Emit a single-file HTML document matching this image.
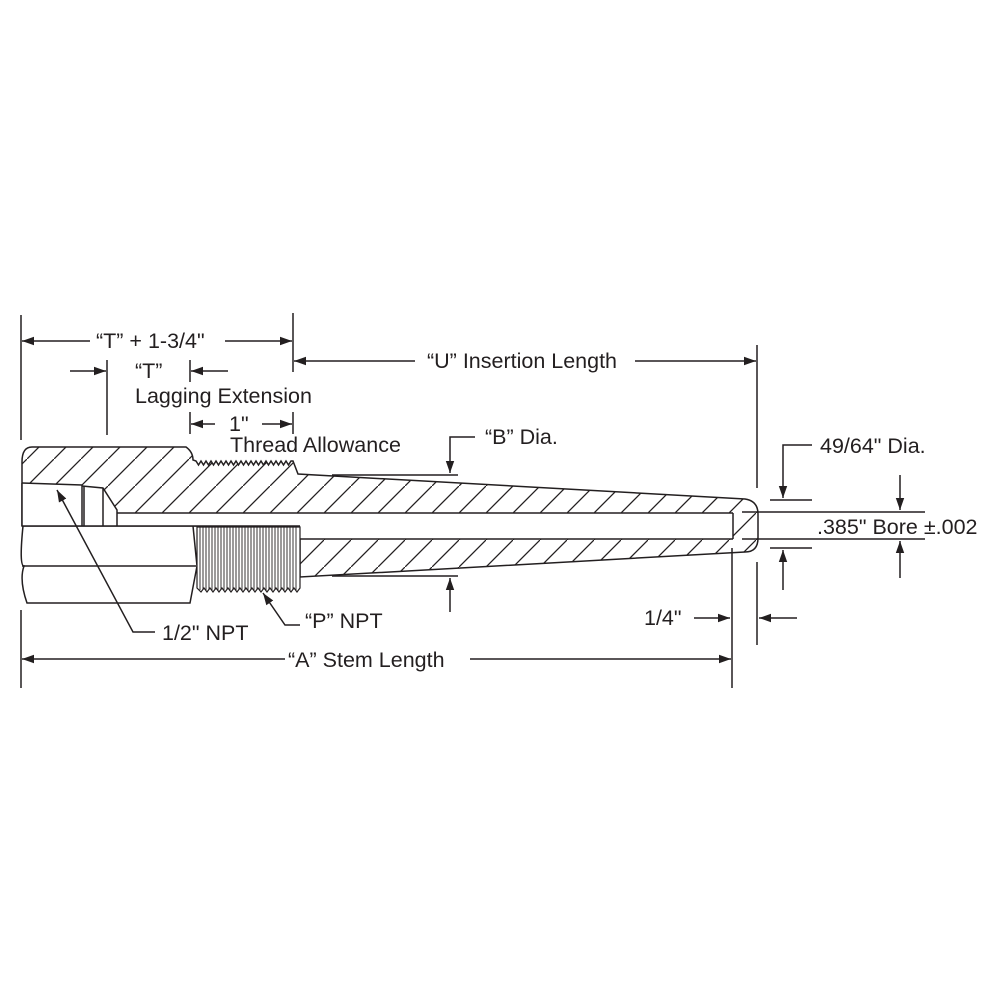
<!DOCTYPE html>
<html><head><meta charset="utf-8"><style>
html,body{margin:0;padding:0;background:#fff}
svg{display:block}
text{font-family:"Liberation Sans",Arial,sans-serif;fill:#231f20}
</style></head><body>
<svg width="1000" height="1000" viewBox="0 0 1000 1000" xmlns="http://www.w3.org/2000/svg">
<defs>
<pattern id="h" patternUnits="userSpaceOnUse" width="27" height="27">
<line x1="-2" y1="29" x2="29" y2="-2" stroke="#231f20" stroke-width="1.3"/>
</pattern>
<marker id="a" viewBox="0 0 10 10" refX="10" refY="5" markerWidth="12" markerHeight="12" markerUnits="userSpaceOnUse" orient="auto-start-reverse"><path d="M0,1.5 L10,5 L0,8.5 Z" fill="#231f20"/></marker>
</defs>
<g stroke="#231f20" fill="none" stroke-width="1.5">
<path fill="url(#h)" d="M22,483 L22,462 Q22,447 32,447 L186,447 Q193,452 193,460 L196,461 l2.5,4 2.5,-4 2.5,4 2.5,-4 2.5,4 2.5,-4 2.5,4 2.5,-4 2.5,4 2.5,-4 2.5,4 2.5,-4 2.5,4 2.5,-4 2.5,4 2.5,-4 2.5,4 2.5,-4 2.5,4 2.5,-4 2.5,4 2.5,-4 2.5,4 2.5,-4 2.5,4 2.5,-4 2.5,4 2.5,-4 2.5,4 2.5,-4 2.5,4 2.5,-4 2.5,4 2.5,-4 2.5,4 2.5,-4 2.5,4 2.5,-4 L293,461 L298,474 L745,499 Q758,501 758,514 L758,538 Q758,552 745,552 L300,577 L300,526 L22,526 Z"/>
<path fill="#fff" d="M22,483 L82,485 L103,488 L117,510 L117,513 L733,513 L733,539 L300,539 L300,526 L22,526 Z" stroke="none"/>
<line x1="22" y1="483" x2="82" y2="485"/>
<path d="M82,486 L103,488 L117,510 L117,526"/>
<line x1="82" y1="485" x2="82" y2="526"/><line x1="84" y1="486" x2="84" y2="526"/>
<line x1="103" y1="488" x2="103" y2="526"/>
<line x1="117" y1="513" x2="733" y2="513"/>
<line x1="300" y1="539" x2="733" y2="539"/>
<line x1="733" y1="513" x2="733" y2="539"/>
<line x1="22" y1="483" x2="22" y2="526"/>
<!-- hex lower faces -->
<path d="M23,526 Q19,566 24,566 Q19,580 27,603 L190,603 L197,566 L193,526"/>
<line x1="22" y1="566" x2="196" y2="566"/>
<line x1="22" y1="526" x2="300" y2="526"/>
<!-- internal thread -->
<path fill="#fff" d="M197,527 L300,527 L300,588 L297,592 L294,588 L291,592 L288,588 L285,592 L282,588 L279,592 L276,588 L273,592 L270,588 L267,592 L264,588 L261,592 L258,588 L255,592 L252,588 L249,592 L246,588 L243,592 L240,588 L237,592 L234,588 L231,592 L228,588 L225,592 L222,588 L219,592 L216,588 L213,592 L210,588 L207,592 L204,588 L201,592 L197,588 Z" stroke-width="1.2"/>
<path stroke-width="0.9" d="M200,527V590M203,527V590M206,527V590M209,527V590M212,527V590M215,527V590M218,527V590M221,527V590M224,527V590M227,527V590M230,527V590M233,527V590M236,527V590M239,527V590M242,527V590M245,527V590M248,527V590M251,527V590M254,527V590M257,527V590M260,527V590M263,527V590M266,527V590M269,527V590M272,527V590M275,527V590M278,527V590M281,527V590M284,527V590M287,527V590M290,527V590M293,527V590M296,527V590"/>

<line x1="21" y1="315" x2="21" y2="440"/>
<line x1="21" y1="610" x2="21" y2="688"/>
<line x1="293" y1="313" x2="293" y2="372"/>
<line x1="107" y1="360" x2="107" y2="435"/>
<line x1="190" y1="360" x2="190" y2="382"/>
<line x1="190" y1="412" x2="190" y2="434"/>
<line x1="293" y1="412" x2="293" y2="434"/>
<line x1="757" y1="345" x2="757" y2="488"/>
<line x1="757" y1="562" x2="757" y2="645"/>
<line x1="732" y1="548" x2="732" y2="688"/>
<line x1="90" y1="341" x2="22" y2="341" marker-end="url(#a)"/>
<line x1="225" y1="341" x2="292" y2="341" marker-end="url(#a)"/>
<line x1="70" y1="371" x2="106" y2="371" marker-end="url(#a)"/>
<line x1="228" y1="371" x2="191" y2="371" marker-end="url(#a)"/>
<line x1="215" y1="424" x2="191" y2="424" marker-end="url(#a)"/>
<line x1="262" y1="424" x2="292" y2="424" marker-end="url(#a)"/>
<line x1="415" y1="361" x2="294" y2="361" marker-end="url(#a)"/>
<line x1="635" y1="361" x2="756" y2="361" marker-end="url(#a)"/>
<line x1="285" y1="659" x2="22" y2="659" marker-end="url(#a)"/>
<line x1="470" y1="659" x2="731" y2="659" marker-end="url(#a)"/>
<path d="M475,437 L450,437 L450,473" marker-end="url(#a)"/>
<line x1="332" y1="475" x2="458" y2="475"/>
<line x1="332" y1="576" x2="458" y2="576"/>
<line x1="450" y1="612" x2="450" y2="578" marker-end="url(#a)"/>
<path d="M812,445 L783,445 L783,498" marker-end="url(#a)"/>
<line x1="770" y1="500" x2="812" y2="500"/>
<line x1="770" y1="548" x2="812" y2="548"/>
<line x1="783" y1="590" x2="783" y2="550" marker-end="url(#a)"/>
<line x1="742" y1="512" x2="925" y2="512"/>
<line x1="742" y1="539" x2="925" y2="539"/>
<line x1="900" y1="475" x2="900" y2="510" marker-end="url(#a)"/>
<line x1="900" y1="578" x2="900" y2="541" marker-end="url(#a)"/>
<line x1="694" y1="618" x2="730" y2="618" marker-end="url(#a)"/>
<line x1="797" y1="618" x2="759" y2="618" marker-end="url(#a)"/>
<path d="M155,632 L133,632 L57,490" marker-end="url(#a)"/>
<path d="M300,625 L285,625 L263,593" marker-end="url(#a)"/>
</g>
<g font-size="21.5">
<text x="96" y="348">“T” + 1-3/4"</text>
<text x="135" y="378">“T”</text>
<text x="135" y="403">Lagging Extension</text>
<text x="229" y="431">1"</text>
<text x="230" y="452">Thread Allowance</text>
<text x="427" y="368">“U” Insertion Length</text>
<text x="485" y="444">“B” Dia.</text>
<text x="820" y="453">49/64" Dia.</text>
<text x="817" y="534">.385" Bore ±.002</text>
<text x="644" y="625">1/4"</text>
<text x="162" y="640">1/2" NPT</text>
<text x="305" y="628">“P” NPT</text>
<text x="288" y="667">“A” Stem Length</text>
</g>
</svg>
</body></html>
